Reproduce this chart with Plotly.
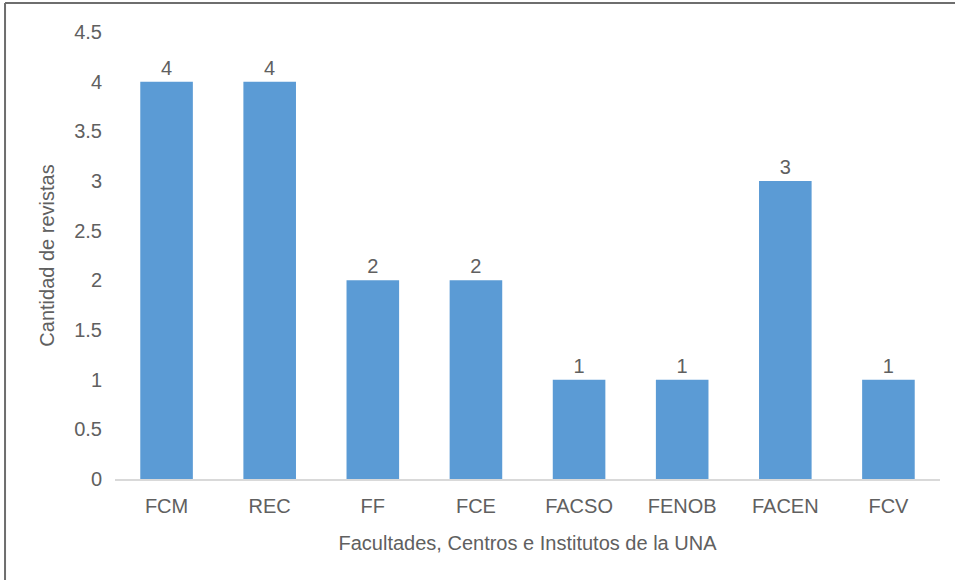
import plotly.graph_objects as go

categories = ["FCM", "REC", "FF", "FCE", "FACSO", "FENOB", "FACEN", "FCV"]
values = [4, 4, 2, 2, 1, 1, 3, 1]
y_ticks = [0, 0.5, 1, 1.5, 2, 2.5, 3, 3.5, 4, 4.5]
y_tick_labels = ["0", "0.5", "1", "1.5", "2", "2.5", "3", "3.5", "4", "4.5"]

FONT = "Liberation Sans, Arial, sans-serif"
TXT = "#606060"
FS = 20

fig = go.Figure(go.Bar(
    x=categories, y=values,
    marker=dict(color="#5B9BD5", line=dict(width=0)),
    text=[str(v) for v in values], textposition="outside",
    textfont=dict(family=FONT, size=FS, color=TXT),
    cliponaxis=False,
))

fig.update_layout(
    width=955, height=580,
    margin=dict(l=115, r=15, t=32, b=101),
    paper_bgcolor="white", plot_bgcolor="white",
    bargap=0.49,
    showlegend=False,
    font=dict(family=FONT, color=TXT, size=FS),
    xaxis=dict(
        showline=True, linecolor="#D9D9D9", linewidth=2,
        showgrid=False, ticks="", tickfont=dict(size=FS, color=TXT),
        ticklabelstandoff=8,
        title=dict(text="Facultades, Centros e Institutos de la UNA",
                   font=dict(size=FS, color=TXT), standoff=20),
    ),
    yaxis=dict(
        range=[0, 4.5], tickvals=y_ticks, ticktext=y_tick_labels,
        showgrid=False, zeroline=False, showline=False, ticks="",
        tickfont=dict(size=FS, color=TXT),
        ticklabelstandoff=12,
        title=dict(text="Cantidad de revistas", font=dict(size=FS, color=TXT), standoff=14),
    ),
    shapes=[
        dict(type="line", xref="paper", yref="paper",
             x0=-0.1333, x1=1.02, y0=1.0649, y1=1.0649,
             line=dict(color="#6E6E6E", width=2)),
        dict(type="line", xref="paper", yref="paper",
             x0=-0.1333, x1=-0.1333, y0=1.0649, y1=-0.23,
             line=dict(color="#6E6E6E", width=2)),
    ],
)

fig.write_html("out.html", config={"displayModeBar": False},
               post_script="document.body.style.margin='0';")
